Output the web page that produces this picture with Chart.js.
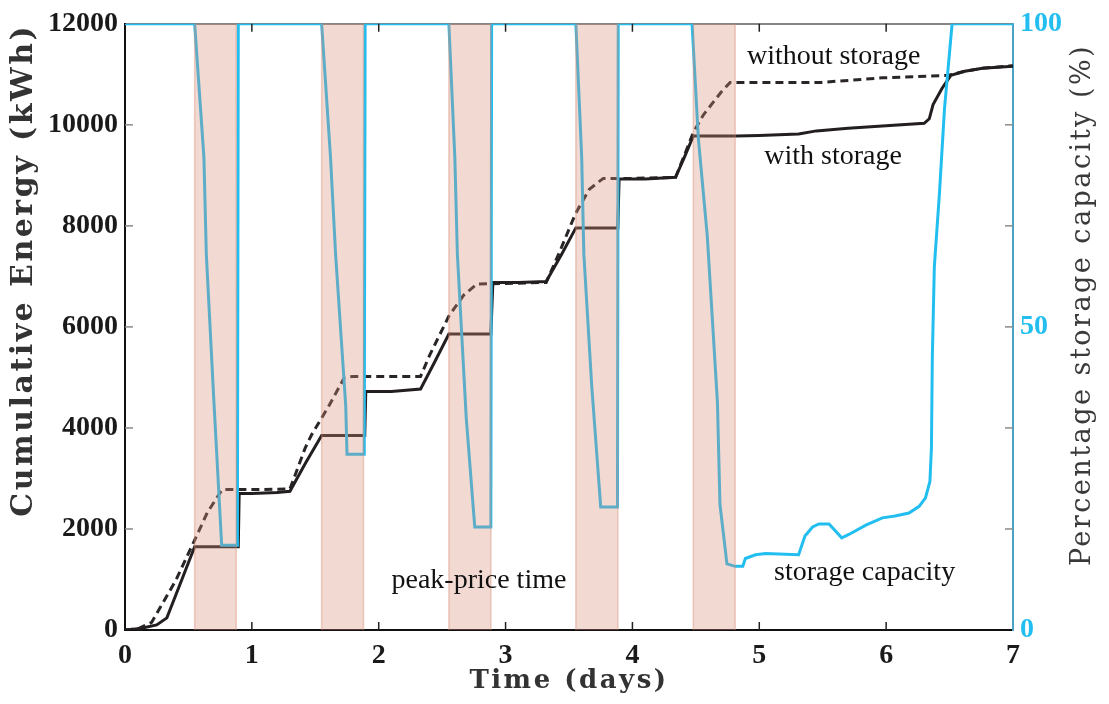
<!DOCTYPE html>
<html><head><meta charset="utf-8">
<script src="https://cdn.jsdelivr.net/npm/chart.js@4.4.1/dist/chart.umd.min.js"></script>
<style>html,body{margin:0;padding:0;background:#fff;}#wrap{width:1109px;height:704px;position:relative;}</style>
</head><body><div id="wrap"><canvas id="c"></canvas></div>
<script>
// ---- data ----
const dayTicks = [0, 1, 2, 3, 4, 5, 6, 7];
const energyTicks = [0, 2000, 4000, 6000, 8000, 10000, 12000];
const capacityTickLabels = [0, 50, 100];
const peakStart = [0.549, 1.55, 2.553, 3.554, 4.48];
const peakEnd   = [0.877, 1.88, 2.884, 3.885, 4.81];

const withDays   = [0, 0.12, 0.25, 0.33, 0.45, 0.549, 0.893, 0.90, 1.0, 1.2, 1.3, 1.42, 1.55, 1.89, 1.898, 2.1, 2.33, 2.44, 2.553, 2.884, 2.9, 3.1, 3.32, 3.44, 3.554, 3.885, 3.895, 4.1, 4.34, 4.41, 4.48, 4.82, 5.0, 5.31, 5.45, 5.7, 6.0, 6.3, 6.34, 6.37, 6.44, 6.51, 6.62, 6.76, 7.0];
const withEnergy = [0, 30, 100, 240, 1010, 1650, 1650, 2700, 2700, 2720, 2745, 3290, 3850, 3850, 4720, 4720, 4770, 5300, 5860, 5860, 6880, 6880, 6900, 7430, 7960, 7960, 8930, 8930, 8960, 9360, 9780, 9780, 9790, 9820, 9880, 9930, 9980, 10030, 10120, 10400, 10720, 10980, 11060, 11120, 11160];

const withoutDays   = [0, 0.1, 0.21, 0.4, 0.549, 0.65, 0.766, 1.0, 1.3, 1.42, 1.47, 1.61, 1.73, 1.8, 2.33, 2.4, 2.553, 2.67, 2.775, 3.0, 3.32, 3.42, 3.55, 3.66, 3.77, 4.0, 4.34, 4.41, 4.48, 4.56, 4.70, 4.77, 5.0, 5.49, 5.97, 6.49, 6.62, 6.76, 7.0];
const withoutEnergy = [0, 20, 150, 980, 1780, 2330, 2780, 2780, 2790, 3600, 3860, 4450, 5000, 5020, 5020, 5430, 6215, 6630, 6850, 6860, 6880, 7450, 8235, 8725, 8940, 8940, 8960, 9400, 9850, 10200, 10650, 10840, 10840, 10840, 10930, 10980, 11060, 11120, 11170];

const capDays = [0, 0.549, 0.622, 0.641, 0.70, 0.762, 0.886, 0.893, 1.55, 1.62, 1.66, 1.74, 1.75, 1.886, 1.893, 2.553, 2.60, 2.62, 2.69, 2.757, 2.884, 2.89, 3.554, 3.60, 3.617, 3.68, 3.75, 3.882, 3.888, 4.47, 4.52, 4.59, 4.67, 4.69, 4.745, 4.81, 4.87, 4.89, 4.97, 5.05, 5.31, 5.36, 5.42, 5.47, 5.55, 5.65, 5.71, 5.84, 5.97, 6.07, 6.18, 6.26, 6.31, 6.345, 6.357, 6.364, 6.38, 6.42, 6.46, 6.52, 7.0];
const capPct  = [100, 100, 78, 62, 38, 14, 14, 100, 100, 78, 62, 37, 29, 29, 100, 100, 78, 62, 35, 17, 17, 100, 100, 78, 62, 40, 20.3, 20.3, 100, 100, 81, 65, 37.6, 20.7, 10.9, 10.5, 10.5, 11.8, 12.4, 12.6, 12.4, 15.5, 17, 17.5, 17.5, 15.2, 15.8, 17.3, 18.5, 18.8, 19.3, 20.4, 21.8, 24.5, 30, 45, 60, 72, 86, 100, 100];

const noteTexts = ['without storage', 'with storage', 'peak-price time', 'storage capacity'];
const noteDays  = [5.586, 5.582, 2.79, 5.83];
const noteEnergy = [11196, 9229, 824, 980];

// ---- styles ----
const CYAN = '#22bef0';
const BLACK = '#231f20';
const BAND_FILL = 'rgba(215,139,118,0.33)';
const BAND_EDGE = 'rgba(215,139,118,0.45)';
const tickFont = {family: 'Liberation Serif', weight: 'bold', size: 28};
const TITLE_SPACING = '2.5px';

const pts = (xs, ys) => xs.map((x, i) => ({x, y: ys[i]}));

const bandSets = peakStart.map((s, i) => ({
  label: 'peak ' + (i + 1),
  data: [{x: s, y: 0}, {x: s, y: 12000}, {x: peakEnd[i], y: 12000}, {x: peakEnd[i], y: 0}],
  yAxisID: 'y',
  borderColor: BAND_EDGE,
  borderWidth: 1.5,
  segment: {borderColor: c => c.p0DataIndex === 1 ? 'rgba(0,0,0,0)' : BAND_EDGE},
  backgroundColor: BAND_FILL,
  fill: 'origin',
  pointRadius: 0,
  order: 0
}));

// axis titles get the wide letter spacing; tick labels (drawn after datasets) do not
const titleSpacing = {
  id: 'titleSpacing',
  beforeDraw(chart) { chart.ctx.letterSpacing = TITLE_SPACING; },
  afterDatasetsDraw(chart) { chart.ctx.letterSpacing = '0px'; }
};

const inwardTicks = {
  id: 'inwardTicks',
  afterDatasetsDraw(chart) {
    const {ctx, chartArea: a, scales} = chart;
    const L = 8;
    ctx.save();
    ctx.lineWidth = 1.5;
    ctx.strokeStyle = '#222';
    for (const v of dayTicks) {
      if (v === dayTicks[0] || v === dayTicks[dayTicks.length - 1]) continue;
      const px = scales.x.getPixelForValue(v);
      ctx.beginPath();
      ctx.moveTo(px, a.bottom); ctx.lineTo(px, a.bottom - L);
      ctx.moveTo(px, a.top); ctx.lineTo(px, a.top + L);
      ctx.stroke();
    }
    ctx.strokeStyle = '#8a8a8a';
    for (const v of energyTicks) {
      if (v === 0 || v === 12000) continue;
      const py = scales.y.getPixelForValue(v);
      ctx.beginPath(); ctx.moveTo(a.left, py); ctx.lineTo(a.left + L, py); ctx.stroke();
    }
    for (const t of scales.yR.ticks) {
      if (t.value <= 0 || t.value >= 100) continue;
      const py = scales.yR.getPixelForValue(t.value);
      ctx.beginPath(); ctx.moveTo(a.right, py); ctx.lineTo(a.right - L, py); ctx.stroke();
    }
    ctx.restore();
  }
};

const notesPlugin = {
  id: 'notes',
  afterDatasetsDraw(chart) {
    const {ctx, scales} = chart;
    ctx.save();
    ctx.letterSpacing = '0px';
    ctx.font = 'normal 28px "Liberation Serif"';
    ctx.fillStyle = '#111';
    ctx.textAlign = 'center';
    ctx.textBaseline = 'alphabetic';
    noteTexts.forEach((t, i) => {
      ctx.fillText(t, scales.x.getPixelForValue(noteDays[i]), scales.y.getPixelForValue(noteEnergy[i]));
    });
    ctx.restore();
  }
};

const rightTitle = {
  id: 'rightTitle',
  afterDraw(chart) {
    const {ctx, chartArea: a} = chart;
    ctx.save();
    ctx.translate(a.right + 70, 305);
    ctx.rotate(-Math.PI / 2);
    ctx.letterSpacing = TITLE_SPACING;
    ctx.font = 'normal 27px "DejaVu Serif"';
    ctx.fillStyle = '#3a3a3a';
    ctx.textAlign = 'center';
    ctx.textBaseline = 'middle';
    ctx.fillText('Percentage storage capacity (%)', 0, 0);
    ctx.restore();
  }
};

new Chart(document.getElementById('c'), {
  type: 'line',
  data: {
    datasets: [
      ...bandSets,
      {label: 'storage capacity', data: pts(capDays, capPct), yAxisID: 'yR', borderColor: CYAN, borderWidth: 3, pointRadius: 0, fill: false, order: 1},
      {label: 'with storage', data: pts(withDays, withEnergy), yAxisID: 'y', borderColor: BLACK, borderWidth: 3, pointRadius: 0, fill: false, order: 2},
      {label: 'without storage', data: pts(withoutDays, withoutEnergy), yAxisID: 'y', borderColor: '#2b2626', borderWidth: 3, borderDash: [8, 5], pointRadius: 0, fill: false, order: 3}
    ]
  },
  options: {
    responsive: true,
    maintainAspectRatio: false,
    animation: false,
    layout: {padding: 0},
    plugins: {legend: {display: false}, tooltip: {enabled: false}},
    scales: {
      x: {
        type: 'linear', position: 'bottom', min: 0, max: 7,
        afterBuildTicks: s => { s.ticks = dayTicks.map(v => ({value: v})); },
        ticks: {font: tickFont, color: '#1a1a1a', padding: 9, maxRotation: 0, autoSkip: false, z: 1, callback: v => String(v)},
        grid: {drawOnChartArea: false, drawTicks: false},
        border: {color: '#111', width: 2},
        title: {display: true, text: 'Time (days)', font: {family: 'DejaVu Serif', weight: 'bold', size: 26}, color: '#333', padding: {top: 0, bottom: 7}},
        afterFit: s => { s.height = 74; }
      },
      xTop: {
        type: 'linear', position: 'top', min: 0, max: 7,
        ticks: {display: false},
        grid: {drawOnChartArea: false, drawTicks: false},
        border: {color: '#858585', width: 2},
        afterFit: s => { s.height = 18; }
      },
      y: {
        type: 'linear', position: 'left', min: 0, max: 12000,
        afterBuildTicks: s => { s.ticks = energyTicks.map(v => ({value: v})); },
        ticks: {font: tickFont, color: '#1a1a1a', padding: 7, z: 1, callback: v => String(v)},
        grid: {drawOnChartArea: false, drawTicks: false},
        border: {color: '#111', width: 2},
        title: {display: true, text: 'Cumulative Energy (kWh)', align: 'end', font: {family: 'DejaVu Serif', weight: 'bold', size: 30}, color: '#333', padding: {top: 6, bottom: 0}},
        afterFit: s => { s.width = 125; }
      },
      yR: {
        type: 'linear', position: 'right', min: 0, max: 100,
        afterBuildTicks: s => { s.ticks = [0, 1, 2, 3, 4, 5, 6].map(i => ({value: i * 100 / 6})); },
        ticks: {font: tickFont, color: CYAN, padding: 7, z: 1, callback: v => capacityTickLabels.includes(Math.round(v)) ? String(Math.round(v)) : ''},
        grid: {drawOnChartArea: false, drawTicks: false},
        border: {color: '#4aa3c5', width: 2},
        afterFit: s => { s.width = 96; }
      }
    }
  },
  plugins: [titleSpacing, inwardTicks, notesPlugin, rightTitle]
});
</script>
</body></html>
